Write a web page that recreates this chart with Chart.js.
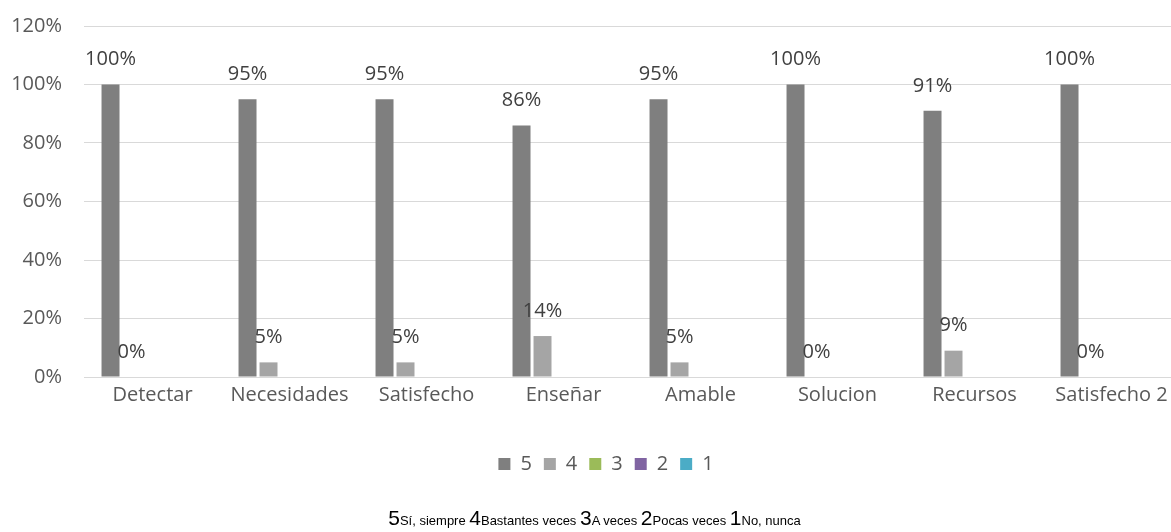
<!DOCTYPE html>
<html>
<head>
<meta charset="utf-8">
<script src="https://cdn.jsdelivr.net/npm/chart.js@4"></script>
<style>
  html, body { margin:0; padding:0; background:#fff; overflow:hidden; width:1171px; height:532px; }
  #wrap { position:relative; width:1212px; height:532px; }
  #c { position:absolute; left:0; top:0; }
  #foot { position:absolute; left:0; width:1171px; top:506px; text-align:center; font-family:"Liberation Sans", Arial, sans-serif; color:#000; padding-left:18px; box-sizing:border-box; }
  #foot .big { font-size:21px; }
  #foot .sm { font-size:13px; }
</style>
</head>
<body>
<div id="wrap">
  <canvas id="c" width="1212" height="532"></canvas>
  <div id="foot"><span class="big">5</span><span class="sm">Sí, siempre </span><span class="big">4</span><span class="sm">Bastantes veces </span><span class="big">3</span><span class="sm">A veces </span><span class="big">2</span><span class="sm">Pocas veces </span><span class="big">1</span><span class="sm">No, nunca</span></div>
</div>
<script>
const categories = ["Detectar", "Necesidades", "Satisfecho", "Enseñar", "Amable", "Solucion", "Recursos", "Satisfecho 2"];
const seriesNames = ["5", "4", "3", "2", "1"];
const s5 = [1.00, 0.95, 0.95, 0.86, 0.95, 1.00, 0.91, 1.00];
const s4 = [0.00, 0.05, 0.05, 0.14, 0.05, 0.00, 0.09, 0.00];
const s3 = [null, null, null, null, null, null, null, null];
const s2 = [null, null, null, null, null, null, null, null];
const s1 = [null, null, null, null, null, null, null, null];
const yTicks = [0, 0.2, 0.4, 0.6, 0.8, 1.0, 1.2];
const colors = ["#7f7f7f", "#a5a5a5", "#9bbb59", "#8064a2", "#4bacc6"];

const FONT = "Open Sans";
const FS = 20;

const valueLabels = {
  id: 'valueLabels',
  afterDatasetsDraw(chart) {
    const ctx = chart.ctx;
    ctx.save();
    ctx.font = FS + "px '" + FONT + "'";
    ctx.fillStyle = "#404040";
    ctx.textAlign = "center";
    ctx.textBaseline = "middle";
    [0, 1].forEach(di => {
      const meta = chart.getDatasetMeta(di);
      meta.data.forEach((bar, i) => {
        const v = chart.data.datasets[di].data[i];
        if (v === null || v === undefined) return;
        ctx.fillText(Math.round(v * 100) + "%", bar.x, bar.y - 25);
      });
    });
    ctx.restore();
  }
};

const allSeries = [s5, s4, s3, s2, s1];
new Chart(document.getElementById('c'), {
  type: 'bar',
  data: {
    labels: categories,
    datasets: allSeries.map((d, i) => ({
      label: seriesNames[i],
      data: d,
      backgroundColor: colors[i],
      borderWidth: 0,
      categoryPercentage: 0.766,
      barPercentage: 0.857
    }))
  },
  options: {
    responsive: false,
    animation: false,
    layout: { padding: { top: 26, right: 0, left: 0, bottom: 48 } },
    scales: {
      x: {
        afterFit(scale) { scale.height += 29; },
        grid: { display: false, drawTicks: false },
        border: { display: true, color: "#d9d9d9", width: 1 },
        ticks: { color: "#595959", font: { family: FONT, size: FS }, padding: 6, maxRotation: 0, autoSkip: false }
      },
      y: {
        min: 0, max: 1.2,
        afterBuildTicks(scale) { scale.ticks = yTicks.map(v => ({ value: v })); },
        afterFit(scale) { scale.width = 84; scale.paddingTop = 0; scale.paddingBottom = 0; },
        grid: { color: "#d9d9d9", lineWidth: 1, drawTicks: false },
        border: { display: false },
        ticks: { color: "#595959", font: { family: FONT, size: FS }, padding: 22,
          callback: v => Math.round(v * 100) + "%" }
      },
      yRight: {
        type: 'linear', position: 'right', display: true,
        afterFit(scale) { scale.width = 32; scale.paddingTop = 0; scale.paddingBottom = 0; },
        grid: { display: false, drawTicks: false },
        border: { display: false },
        ticks: { display: false }
      }
    },
    plugins: {
      legend: {
        position: 'bottom',
        labels: { boxWidth: 12, boxHeight: 12, padding: 12, color: "#595959", font: { family: FONT, size: FS } }
      },
      tooltip: { enabled: false }
    }
  },
  plugins: [valueLabels]
});
</script>
</body>
</html>
